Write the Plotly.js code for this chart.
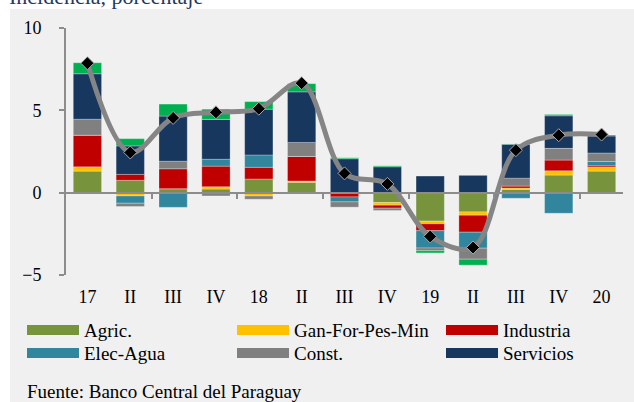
<!DOCTYPE html>
<html><head><meta charset="utf-8">
<script src="https://cdn.plot.ly/plotly-3.0.1.min.js"></script>
<style>html,body{margin:0;padding:0;background:#fff;}#chart{width:634px;height:402px;}</style>
</head><body><div id="chart"></div>
<script>
// ---- data ----
var periods = ["17","II","III","IV","18","II","III","IV","19","II","III","IV","20"];
var agric     = [1.31, 0.75, 0.24, 0.22, 0.83, 0.63, 0.00, -0.60, -1.73, -1.17, 0.20, 1.07, 1.31];
var ganForPes = [0.26, -0.20, 0.00, 0.14, -0.20, 0.08, 0.00, -0.16, -0.16, -0.20, 0.08, 0.26, 0.24];
var industria = [1.92, 0.36, 1.21, 1.25, 0.71, 1.49, -0.26, -0.18, -0.42, -1.03, 0.12, 0.65, 0.08];
var elecAgua  = [0.00, -0.44, -0.89, 0.42, 0.75, 0.00, -0.30, 0.00, -1.05, -0.97, -0.34, -1.25, 0.26];
var constr    = [0.97, -0.20, 0.46, -0.20, -0.20, 0.85, -0.32, -0.14, -0.16, -0.67, 0.48, 0.71, 0.52];
var servicios = [2.76, 1.73, 2.74, 2.42, 2.78, 3.07, 2.06, 1.57, 1.01, 1.05, 2.06, 1.98, 1.03];
var impuestos = [0.67, 0.44, 0.73, 0.62, 0.46, 0.50, 0.06, 0.06, -0.14, -0.36, 0.02, 0.08, 0.06];
var pib       = [7.86, 2.44, 4.54, 4.88, 5.10, 6.65, 1.17, 0.53, -2.66, -3.33, 2.58, 3.49, 3.53];
var seriesNames = ["Agric.","Gan-For-Pes-Min","Industria","Elec-Agua","Const.","Servicios","Impuestos"];
var yTicks = [-5, 0, 5, 10];
var sourceText = "Fuente: Banco Central del Paraguay";
var titleText = "Incidencia, porcentaje";

// ---- styles ----
var colors = ["#77933C","#FFC000","#C00000","#31859C","#808080","#17375E","#00B050"];
var FONT = "Liberation Serif, Times New Roman, serif";
var W = 634, H = 402, L = 66, R = 623, T = 28, B = 275;
function px(x){ return (x - L) / (R - L); }
function py(y){ return (B - y) / (B - T); }

var xIdx = periods.map(function(_, i){ return i; });
var seriesVals = [agric, ganForPes, industria, elecAgua, constr, servicios, impuestos];

var traces = seriesVals.map(function(vals, k){
  return {type:"bar", x:xIdx, y:vals, name:seriesNames[k], width:0.66,
    marker:{color:colors[k], line:{width:0.6, color:"rgba(255,255,255,0.45)"}},
    showlegend:false, hoverinfo:"name+y"};
});
traces.push({type:"scatter", mode:"lines+markers", x:xIdx, y:pib, name:"PIB",
  line:{color:"#858585", width:5, shape:"spline", smoothing:1},
  marker:{symbol:"diamond", size:10, color:"#000", line:{width:1, color:"#aaa"}},
  showlegend:false});

// legend (custom, wide swatches)
var shapes = [{type:"rect", xref:"paper", yref:"paper", x0:px(10), x1:px(634), y0:py(9), y1:py(402),
  fillcolor:"#F0F0F0", line:{width:0}, layer:"below"}];
var annotations = [];
var colX = [27, 237, 446], rowY = [330, 353];
for (var k = 0; k < 6; k++){
  var cx = colX[k % 3], cy = rowY[Math.floor(k / 3)];
  shapes.push({type:"rect", xref:"paper", yref:"paper", x0:px(cx), x1:px(cx + 52),
    y0:py(cy - 5), y1:py(cy + 5), fillcolor:colors[k], line:{width:0}});
  annotations.push({xref:"paper", yref:"paper", x:px(cx + 55), y:py(cy), xanchor:"left", yanchor:"middle",
    text:seriesNames[k], showarrow:false, font:{family:FONT, size:19, color:"#000"}});
}
annotations.push({xref:"paper", yref:"paper", x:px(25), y:py(391), xanchor:"left", yanchor:"middle",
  text:sourceText, showarrow:false, font:{family:FONT, size:19, color:"#000"}});
// chart title (partly cropped by the top edge, as in the reference)
annotations.push({xref:"paper", yref:"paper", x:px(7), y:py(-4), xanchor:"left", yanchor:"middle",
  text:titleText, showarrow:false, font:{family:FONT, size:22, color:"#1F3864"}});

var layout = {
  width:W, height:H, margin:{l:L, r:W - R, t:T, b:H - B, pad:0},
  paper_bgcolor:"#FFFFFF", plot_bgcolor:"rgba(0,0,0,0)",
  barmode:"relative", showlegend:false,
  xaxis:{range:[-0.5, 12.5], tickvals:xIdx, ticktext:periods, showgrid:false, zeroline:false,
    showline:false, ticks:"", ticklabelstandoff:9, tickfont:{family:FONT, size:18, color:"#000"}, fixedrange:true},
  xaxis2:{overlaying:"x", anchor:"free", position:5 / 15, range:[-0.5, 12.5],
    tickvals:[1.5, 3.5, 5.5, 7.5, 9.5, 11.5], showticklabels:false, ticks:"outside", ticklen:5,
    tickwidth:2, tickcolor:"#8C8C8C", showline:true, linecolor:"#8C8C8C", linewidth:2,
    showgrid:false, zeroline:false},
  yaxis:{range:[-5, 10], tickvals:yTicks, showgrid:false, zeroline:false, showline:true,
    linecolor:"#8C8C8C", linewidth:2, ticks:"outside", ticklen:5, tickwidth:2, tickcolor:"#8C8C8C",
    ticklabelstandoff:14, tickfont:{family:FONT, size:18, color:"#000"}},
  shapes:shapes, annotations:annotations
};
// invisible helper trace so the zero-line axis (xaxis2) is drawn
traces.push({type:"scatter", x:[0], y:[0], xaxis:"x2", mode:"markers", marker:{opacity:0}, hoverinfo:"skip", showlegend:false});
Plotly.newPlot("chart", traces, layout, {displayModeBar:false, staticPlot:true});
</script></body></html>
